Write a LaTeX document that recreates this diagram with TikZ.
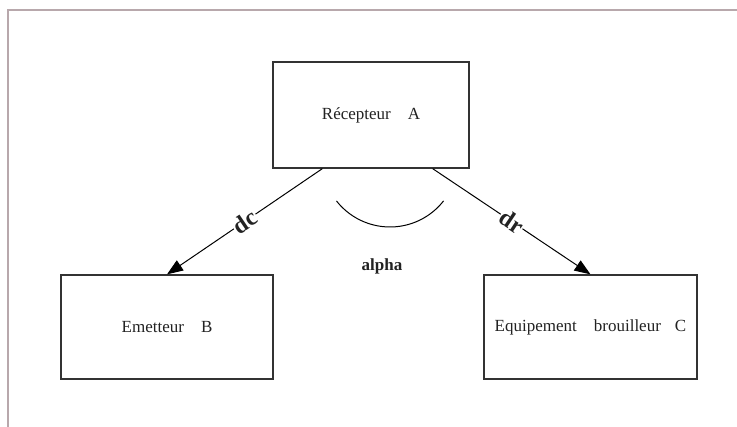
\documentclass[tikz,border=0pt]{standalone}
\usepackage{fontspec}
\setmainfont{Liberation Serif}
\usetikzlibrary{arrows.meta}
\definecolor{framecol}{HTML}{B8A8AC}
\definecolor{boxcol}{HTML}{333333}
\definecolor{txtcol}{HTML}{222222}
\tikzset{
  unitbox/.style={draw=boxcol, line width=1.3pt, minimum width=#1, inner sep=0pt, text=txtcol,
    font=\fontsize{17}{20}\selectfont},
  link/.style={draw=black, line width=1pt, -{Triangle[length=16pt,width=12pt]}},
  dlabel/.style={fill=white, inner sep=1pt, sloped, font=\fontsize{24}{26}\selectfont\bfseries, text=txtcol},
}
\begin{document}
\begin{tikzpicture}[x=1pt, y=-1pt]
\useasboundingbox (0,0) rectangle (737,427);
\draw[framecol, line width=1.2pt] (8,427) -- (8,10) -- (737,10);
\node[unitbox=196pt, minimum height=106pt] (A) at (371,115) {Récepteur\hspace{17pt}A};
\node[unitbox=212pt, minimum height=104pt] (B) at (167,327) {Emetteur\hspace{17pt}B};
\node[unitbox=213pt, minimum height=104pt] (C) at (590.5,327) {Equipement\hspace{17pt}brouilleur\hspace{14pt}C};
\draw[link] ([xshift=50pt]A.south west) -- node[dlabel] {dc} (B.north);
\draw[link] ([xshift=-37pt]A.south east) -- node[dlabel] {dr} (C.north);
\draw[black, line width=1pt] (390,159) ++(142:68) arc[start angle=142, end angle=38, radius=68];
\node[font=\fontsize{17}{20}\selectfont\bfseries, text=txtcol] (alpha) at (382,266) {alpha};
\end{tikzpicture}
\end{document}
